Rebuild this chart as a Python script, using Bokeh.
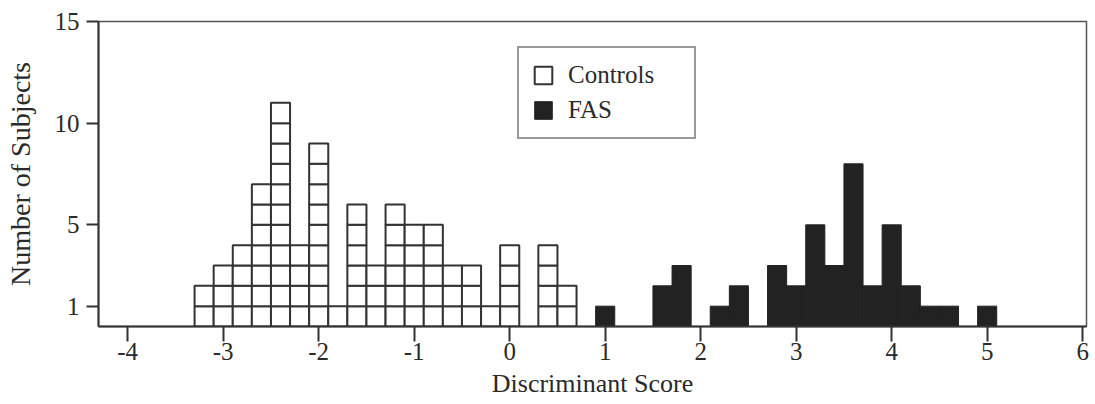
from bokeh.plotting import figure
from bokeh.models import Range1d, FixedTicker, Legend, LegendItem
from bokeh.embed import file_html
from bokeh.resources import INLINE

# ---- data (bin centres, width 0.2) ----
control_centers = [-3.2, -3.0, -2.8, -2.6, -2.4, -2.2, -2.0, -1.8, -1.6, -1.4,
                   -1.2, -1.0, -0.8, -0.6, -0.4, -0.2, 0.0, 0.2, 0.4, 0.6]
control_counts = [2, 3, 4, 7, 11, 4, 9, 1, 6, 3,
                  6, 5, 5, 3, 3, 1, 4, 0, 4, 2]
fas_centers = [1.0, 1.2, 1.4, 1.6, 1.8, 2.0, 2.2, 2.4, 2.6, 2.8, 3.0,
               3.2, 3.4, 3.6, 3.8, 4.0, 4.2, 4.4, 4.6, 4.8, 5.0]
fas_counts = [1, 0, 0, 2, 3, 0, 1, 2, 0, 3, 2,
              5, 3, 8, 2, 5, 2, 1, 1, 0, 1]
bin_width = 0.2
x_ticks = [-4, -3, -2, -1, 0, 1, 2, 3, 4, 5, 6]
x_tick_labels = ["-4", "-3", "-2", "-1", "0", "1", "2", "3", "4", "5", "6"]
y_ticks = [1, 5, 10, 15]
y_tick_labels = ["1", "5", "10", "15"]

# unit squares for controls, built from the counts
sq_x, sq_y = [], []
for c, n in zip(control_centers, control_counts):
    for k in range(n):
        sq_x.append(c)
        sq_y.append(k + 0.5)

FONT = "Liberation Serif"
INK = "#2a2a2a"

p = figure(width=1092, height=400, output_backend="svg", toolbar_location=None,
           x_range=Range1d(-4.306, 6.04), y_range=Range1d(0, 15),
           min_border_left=98, min_border_right=6, min_border_top=21,
           min_border_bottom=74, title=None)
p.background_fill_color = "white"
p.border_fill_color = "white"
p.outline_line_color = "#555555"
p.outline_line_width = 1.5
p.xgrid.visible = False
p.ygrid.visible = False

r_ctrl = p.rect(x=sq_x, y=sq_y, width=bin_width, height=1,
                fill_color="white", line_color="#333333", line_width=2)
r_fas = p.vbar(x=fas_centers, top=fas_counts, width=bin_width, bottom=0,
               fill_color="#222222", line_color="#222222", line_width=1)

for ax in (p.xaxis[0], p.yaxis[0]):
    ax.axis_line_color = "#333333"
    ax.axis_line_width = 2
    ax.major_tick_line_color = "#333333"
    ax.major_tick_line_width = 2
    ax.major_tick_in = 0
    ax.minor_tick_line_color = None
    ax.major_label_text_font = FONT
    ax.major_label_text_font_size = "25px"
    ax.major_label_text_color = INK
    ax.axis_label_text_font = FONT
    ax.axis_label_text_font_size = "26px"
    ax.axis_label_text_font_style = "normal"
    ax.axis_label_text_color = INK

p.xaxis.ticker = FixedTicker(ticks=x_ticks)
p.xaxis.major_label_overrides = dict(zip(x_ticks, x_tick_labels))
p.xaxis.major_tick_out = 15
p.xaxis.major_label_standoff = 1
p.xaxis.axis_label = "Discriminant Score"
p.xaxis.axis_label_standoff = 6
p.xaxis.major_label_text_font_size = "25px"
p.xaxis.axis_label_text_font_size = "26px"

p.yaxis.ticker = FixedTicker(ticks=y_ticks)
p.yaxis.major_label_overrides = dict(zip(y_ticks, y_tick_labels))
p.yaxis.major_tick_out = 12
p.yaxis.major_label_standoff = 7
p.yaxis.axis_label = "Number of Subjects"
p.yaxis.axis_label_standoff = 16
p.yaxis.axis_label_text_font_size = "28px"

legend = Legend(items=[LegendItem(label="Controls", renderers=[r_ctrl]),
                       LegendItem(label="FAS", renderers=[r_fas])],
                location=(419, 187))
legend.label_text_font = FONT
legend.label_text_font_size = "25px"
legend.label_text_color = INK
legend.glyph_width = 22
legend.glyph_height = 22
legend.label_height = 22
legend.label_width = 113
legend.label_standoff = 14
legend.spacing = 7
legend.padding = 13
legend.margin = 0
legend.border_line_color = "#333333"
legend.border_line_width = 2
legend.background_fill_color = "white"
legend.background_fill_alpha = 1
p.add_layout(legend, "center")

open("out.html", "w").write(file_html(p, INLINE))
